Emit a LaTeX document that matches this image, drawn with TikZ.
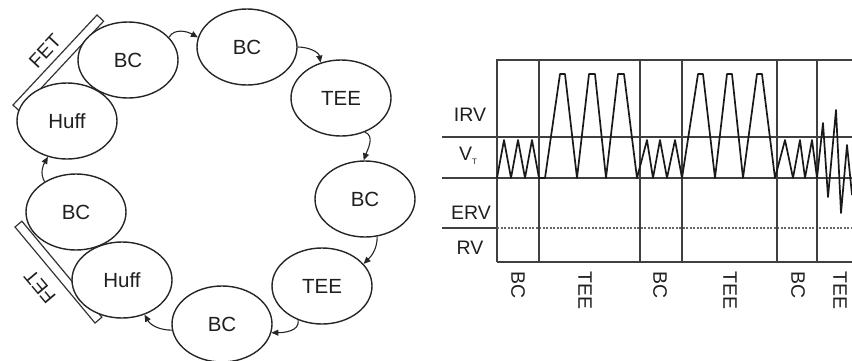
\documentclass[tikz,border=0pt]{standalone}
\usepackage{fontspec}
\setmainfont{Liberation Sans}
\usetikzlibrary{shapes.geometric,arrows.meta}
\begin{document}
\begin{tikzpicture}[x=1pt,y=-1pt,
  stage/.style={ellipse, draw=black!85, line width=1.4pt, minimum width=100pt, minimum height=76pt, inner sep=0pt, font=\fontsize{20.5}{20.5}\selectfont, text=black!88},
  flow/.style={draw=black!85, line width=1.1pt, -{Triangle[length=7pt,width=6pt]}},
  strip/.style={draw=black!80, line width=1.2pt, line join=miter},
  lab/.style={font=\fontsize{19.5}{19.5}\selectfont, text=black!88, inner sep=0pt},
  axis/.style={draw=black!75, line width=1.3pt},
  dots/.style={draw=black!60, line width=1.1pt, dash pattern=on 2pt off 1.5pt},
  wave/.style={draw=black!90, line width=1.7pt, line join=round}]
\useasboundingbox (0,0) rectangle (852,360);
% FET brackets
\draw[strip] (13,105) -- (97,15) -- (103.6,21.2) -- (19.6,111.2) -- cycle;
\draw[strip] (15,227) -- (95,323) -- (101.9,317.2) -- (21.9,221.2) -- cycle;
\node[lab, rotate=47] (fetA) at (45,51) {FET};
\node[lab, rotate=130] (fetB) at (40,287) {FET};
% white fills of the ellipses
\foreach \p in {(128,60),(247,47),(341,98),(365,199),(322,286),(222,324),(122,280),(76,212),(67,121)}
  \fill[white] \p ellipse [x radius=50pt, y radius=38pt];
% stages
\node[stage] (bcA) at (128,60) {BC};
\node[stage] (bcB) at (247,47) {BC};
\node[stage] (teeA) at (341,98) {TEE};
\node[stage] (bcC) at (365,199) {BC};
\node[stage] (teeB) at (322,286) {TEE};
\node[stage] (bcD) at (222,324) {BC};
\node[stage] (huffB) at (122,280) {Huff};
\node[stage] (bcE) at (76,212) {BC};
\node[stage] (huffA) at (67,121) {Huff};
% connectors
\draw[flow] (bcA.29) to[out=60,in=150] (bcB.169);
\draw[flow] (bcB.0) to[out=0,in=100] (teeA.120);
\draw[flow] (teeA.-55) to[out=-20,in=70] (bcC.92);
\draw[flow] (bcC.-72) to[out=-90,in=45] (teeB.28);
\draw[flow] (teeB.-125) to[out=-80,in=0] (bcD.-10);
\draw[flow] (bcD.187) to[out=180,in=-60] (huffB.-57);
\draw[flow] (bcE.136) to[out=120,in=-120] (huffA.-118);
% chart frame
\draw[axis] (497,262) -- (497,60) -- (852,60);
\draw[axis] (442,137) -- (852,137);
\draw[axis] (442,178) -- (852,178);
\draw[axis] (442,228) -- (497,228);
\draw[dots] (497,228) -- (852,228);
\draw[axis] (497,262) -- (852,262);
\foreach \x in {539,640,682,777,817} \draw[axis] (\x,60) -- (\x,262);
% volume trace
\draw[wave] (497,178) -- (504,140) -- (511,178) -- (518,140) -- (525,178) -- (532,140) -- (539,178)
  -- (545,178) -- (560,74) -- (565,74) -- (577,178) -- (589,74) -- (595,74) -- (606,178)
  -- (618,74) -- (624,74) -- (637,178)
  -- (647,140) -- (653,178) -- (660,140) -- (667,178) -- (675,140) -- (682,178)
  -- (698,74) -- (703,74) -- (715,178) -- (727,74) -- (732,74) -- (743,178)
  -- (757,74) -- (762,74) -- (775,178)
  -- (785,140) -- (793,178) -- (800,140) -- (805,178) -- (812,140) -- (817,178)
  -- (823,123) -- (828,197) -- (836,110) -- (841,213) -- (847,145) -- (852,195);
% volume labels
\node[lab] (irv) at (470,115) {IRV};
\node[lab] (vt) at (468,156) {V\raisebox{-4pt}{\fontsize{8}{8}\selectfont T}};
\node[lab] (erv) at (471,213) {ERV};
\node[lab] (rv) at (470,248) {RV};
% phase labels
\node[lab, rotate=-90, anchor=west] (pA) at (518,271) {BC};
\node[lab, rotate=-90, anchor=west] (pB) at (585,271) {TEE};
\node[lab, rotate=-90, anchor=west] (pC) at (660,271) {BC};
\node[lab, rotate=-90, anchor=west] (pD) at (730,271) {TEE};
\node[lab, rotate=-90, anchor=west] (pE) at (798,271) {BC};
\node[lab, rotate=-90, anchor=west] (pF) at (840,271) {TEE};
\end{tikzpicture}
\end{document}
